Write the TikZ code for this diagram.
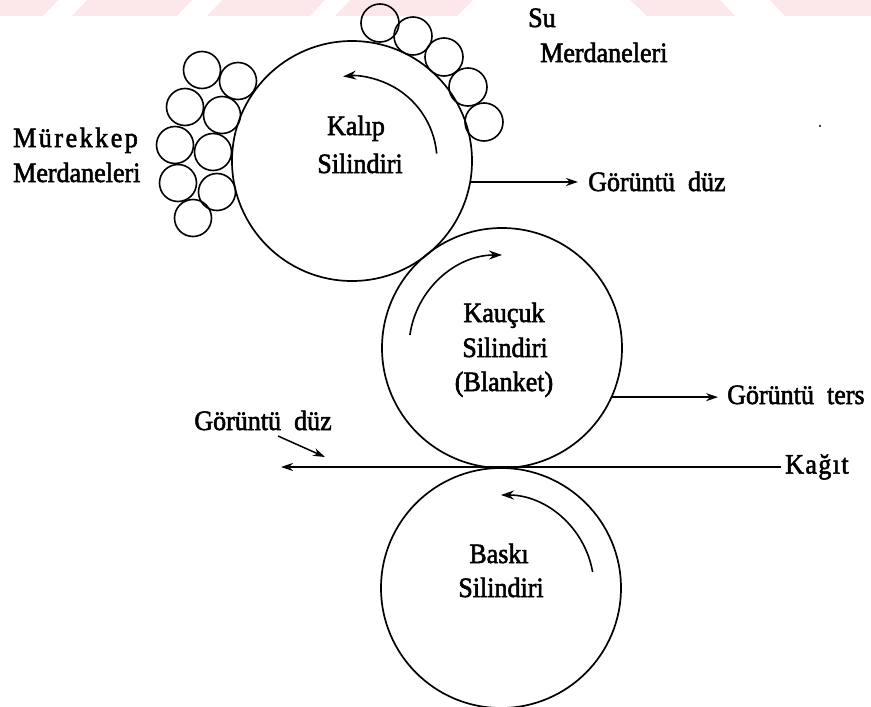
\documentclass[tikz,border=0pt]{standalone}
\usepackage{fontspec}
\setmainfont{Liberation Serif}[FakeBold=2, FakeStretch=0.93]
\usetikzlibrary{arrows.meta}
\definecolor{wmpink}{RGB}{252,231,234}
\tikzset{
  cyl/.style={circle, draw, line width=1.7pt, minimum size=240pt, inner sep=0pt},
  roller/.style={circle, draw, line width=1.6pt, minimum size=37pt, inner sep=0pt},
  txt/.style={font=\fontsize{28}{32}\selectfont, inner sep=0pt, anchor=base},
  arr/.style={line width=1.5pt, -{Stealth[length=12pt,width=8pt]}},
  rot/.style={line width=1.6pt, -{Stealth[length=13pt,width=9pt]}}
}
\begin{document}
\begin{tikzpicture}[x=1pt,y=1pt]
\useasboundingbox (0,0) rectangle (871,-707);

% faint band along the top edge
\fill[wmpink] (0,0) -- (58,0) -- (43,-16) -- (0,-16) -- cycle;
\fill[wmpink] (87,0) -- (192,0) -- (177,-16) -- (72,-16) -- cycle;
\fill[wmpink] (222,0) -- (325,0) -- (310,-16) -- (207,-16) -- cycle;
\fill[wmpink] (350,0) -- (473,0) -- (457,-16) -- (335,-16) -- cycle;
\fill[wmpink] (630,0) -- (720,0) -- (735,-16) -- (647,-16) -- cycle;
\fill[wmpink] (770,0) -- (871,0) -- (871,-16) -- (785,-16) -- cycle;

% the three cylinders
\node[cyl] (kalip)   at (352,-161) {};
\node[cyl] (kaucuk)  at (502,-348) {};
\node[cyl] (baski)   at (501,-588) {};

% water rollers
\node[roller, minimum size=38pt] (su1) at (380,-23) {};
\node[roller, minimum size=38pt] (su2) at (413,-36) {};
\node[roller, minimum size=38pt] (su3) at (444,-57) {};
\node[roller, minimum size=38pt] (su4) at (468,-87) {};
\node[roller, minimum size=38pt] (su5) at (484,-122) {};

% ink rollers
\node[roller] (m1) at (202,-70) {};
\node[roller] (m2) at (238,-81) {};
\node[roller] (m3) at (185,-107) {};
\node[roller] (m4) at (222,-115) {};
\node[roller] (m5) at (175,-145) {};
\node[roller] (m6) at (213,-152) {};
\node[roller] (m7) at (178,-183) {};
\node[roller] (m8) at (217,-192) {};
\node[roller] (m9) at (193,-218) {};

% direction of rotation
\draw[rot] ([shift={(5:85)}]kalip.center) arc[start angle=5, end angle=96, radius=85];
\draw[rot] ([shift={(172:93)}]kaucuk.center) arc[start angle=172, end angle=90, radius=93];
\draw[rot] ([shift={(10:93)}]baski.center) arc[start angle=10, end angle=90, radius=93];

% cylinder labels
\node[txt] (tkalip1)  at (356,-135) {Kalıp};
\node[txt] (tkalip2)  at (360,-173) {Silindiri};
\node[txt] (tkaucuk1) at (504,-322) {Kauçuk};
\node[txt] (tkaucuk2) at (505,-357) {Silindiri};
\node[txt] (tkaucuk3) at (504,-391) {(Blanket)};
\node[txt] (tbaski1)  at (499,-563) {Baskı};
\node[txt] (tbaski2)  at (501,-597) {Silindiri};

% roller labels
\node[txt, anchor=base west] (tsu)   at (528,-27) {Su};
\node[txt, anchor=base west] (tsum)  at (540,-62) {Merdaneleri};
\node[txt, anchor=base west] (tmur)  at (13,-147) {\addfontfeature{LetterSpace=9}Mürekkep};
\node[txt, anchor=base west] (tmurm) at (13,-182) {Merdaneleri};

% image outputs
\node[txt, anchor=base west] (gduz)  at (588,-191) {Görüntü\ \ düz};
\node[txt, anchor=base west] (gters) at (727,-404) {Görüntü\ \ ters};
\node[txt, anchor=west] (kagit) at (785,-467) {\addfontfeature{LetterSpace=5}Kağıt};
\node[txt, anchor=base] (gduz2) at (263,-430) {Görüntü\ \ düz};

\draw[arr] (kalip.-10) -- (kalip.-10 -| 578,0);
\draw[arr] (kaucuk.-24) -- (kaucuk.-24 -| 718,0);

% paper path
\coordinate (paperend) at (281,-467);
\draw[arr] (kagit.west) ++(-4,0) coordinate (paperstart) -- (paperend);
\coordinate (sa1) at (278,-436);
\coordinate (sa2) at (325,-457);
\draw[arr] (sa1) -- (sa2);

% stray mark
\fill (820,-126) circle (1.2);
\end{tikzpicture}
\end{document}
